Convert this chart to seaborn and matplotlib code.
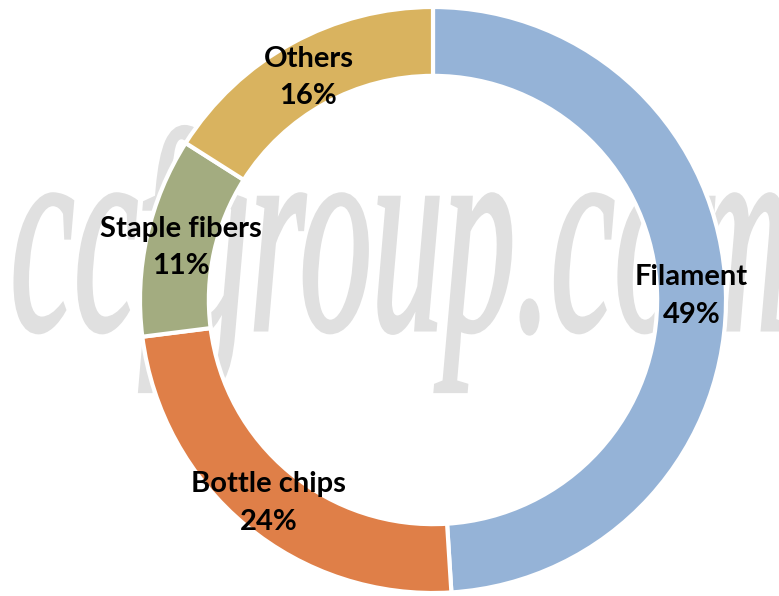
import matplotlib.pyplot as plt
import seaborn as sns
from matplotlib.textpath import TextPath
from matplotlib.patches import PathPatch
from matplotlib.font_manager import FontProperties
from matplotlib.transforms import Affine2D, IdentityTransform, offset_copy

# data
categories = ['Filament', 'Bottle chips', 'Staple fibers', 'Others']
shares = [49, 24, 11, 16]
colors = ['#95B3D7', '#DF7F48', '#A3AC80', '#D9B35F']

sns.set_theme(style='white')
plt.rcParams['font.family'] = ['Lato', 'DejaVu Sans']

W, H = 779, 596
fig = plt.figure(figsize=(W / 100, H / 100), dpi=100)
fig.patch.set_facecolor('white')

# watermark (behind the donut)
fp = FontProperties(family='Liberation Serif', style='italic')
tp = TextPath((0, 0), 'ccfgroup.com', size=1, prop=fp)
tp_head = TextPath((0, 0), 'ccfgroup.', size=1, prop=fp)
head_ext = tp_head.get_extents()
sx = (538 - 15) / head_ext.width
sy = 133 / 0.46
wm = Affine2D().translate(-head_ext.x0, 0).scale(sx, sy).translate(15, H - 330)
patch = PathPatch(wm.transform_path(tp), facecolor='#E0E0E0', edgecolor='#E0E0E0',
                  linewidth=2.2, transform=IdentityTransform(), zorder=-5)
fig.add_artist(patch)

# donut axes: centre (433, 300), radius 293 px
cx, cy, r = 433, 300, 293
ax = fig.add_axes([(cx - r) / W, (H - cy - r) / H, 2 * r / W, 2 * r / H])
ax.patch.set_alpha(0)

labels = [f'{c}\n{v}%' for c, v in zip(categories, shares)]
wedges, texts = ax.pie(shares, labels=labels, colors=colors, startangle=90,
                       counterclock=False, radius=1, labeldistance=0.882,
                       wedgeprops=dict(width=0.235, edgecolor='white', linewidth=3))
for t in texts:
    t.set_ha('center')
    t.set_va('center')
    t.set_fontsize(21)
    t.set_fontweight('bold')
    t.set_color('black')
    t.set_linespacing(1.55)
    t.set_transform(offset_copy(ax.transData, fig=fig, x=0, y=-4, units='dots'))

ax.set_xlim(-1, 1)
ax.set_ylim(-1, 1)
ax.axis('off')

fig.savefig('out.png', dpi=100)
